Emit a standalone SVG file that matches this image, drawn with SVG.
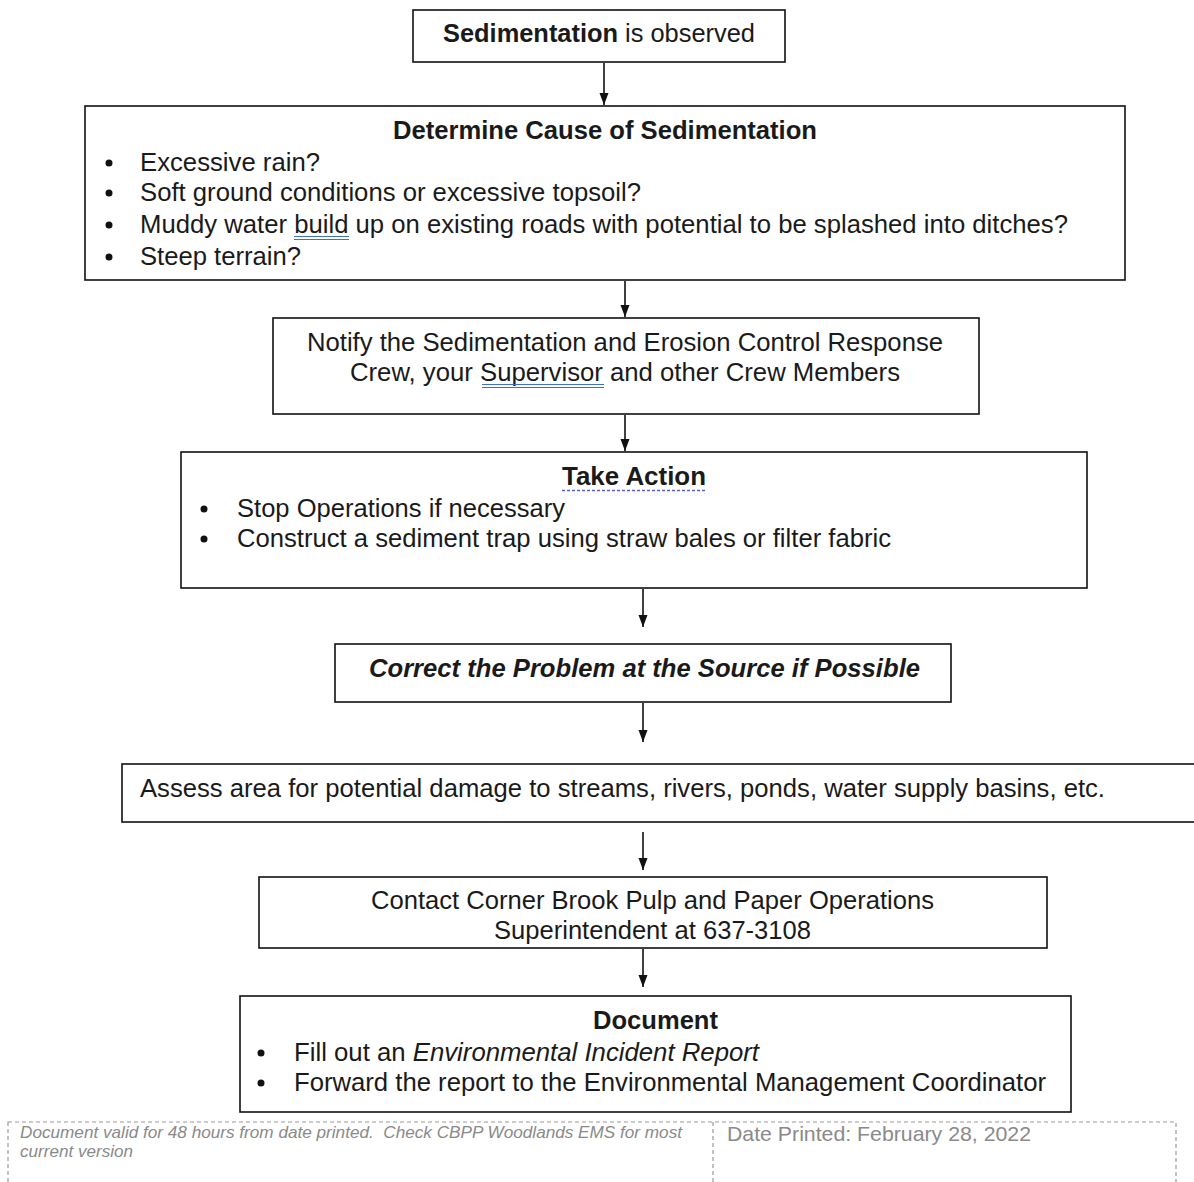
<svg xmlns="http://www.w3.org/2000/svg" width="1194" height="1182" viewBox="0 0 1194 1182">
<defs>
<style>
.box{fill:#fff;stroke:#111;stroke-width:1.6}
.t{font-family:"Liberation Sans",Arial,sans-serif;font-size:25px;fill:#1a1a1a}
.b{font-weight:bold}
.i{font-style:italic}
.c{text-anchor:middle}
.conn{stroke:#111;stroke-width:1.6;fill:none;marker-end:url(#ah)}
.foot{fill:none;stroke:#9a9a9a;stroke-width:1.2;stroke-dasharray:4 3}
.ft{font-family:"Liberation Sans",Arial,sans-serif;fill:#8a8a8a}
.dbl{stroke:#3a6fd8;stroke-width:1.2}
</style>
<marker id="ah" viewBox="0 0 12 10" refX="12" refY="5" markerWidth="12" markerHeight="10" markerUnits="userSpaceOnUse" orient="auto">
<path d="M0,0.5 L12,5 L0,9.5 Z" fill="#111"/>
</marker>
</defs>
<rect width="1194" height="1182" fill="#fff"/>

<g id="connectors">
<line class="conn" x1="604" y1="63" x2="604" y2="105"/>
<line class="conn" x1="625" y1="281" x2="625" y2="317"/>
<line class="conn" x1="625" y1="415" x2="625" y2="451"/>
<line class="conn" x1="643" y1="589" x2="643" y2="627"/>
<line class="conn" x1="643" y1="703" x2="643" y2="742"/>
<line class="conn" x1="643" y1="832" x2="643" y2="870"/>
<line class="conn" x1="643" y1="949" x2="643" y2="987"/>
</g>

<g id="n1">
<rect class="box" x="413" y="10" width="372" height="52"/>
<text class="t" x="443" y="42" textLength="312" lengthAdjust="spacingAndGlyphs"><tspan class="b">Sedimentation</tspan> is observed</text>
</g>

<g id="n2">
<rect class="box" x="85" y="106" width="1040" height="174"/>
<text class="t b c" x="605" y="139" textLength="424" lengthAdjust="spacingAndGlyphs">Determine Cause of Sedimentation</text>
<circle cx="109" cy="163" r="3.5" fill="#111"/>
<circle cx="109" cy="193" r="3.5" fill="#111"/>
<circle cx="109" cy="225" r="3.5" fill="#111"/>
<circle cx="109" cy="257" r="3.5" fill="#111"/>
<text class="t" x="140" y="171" textLength="180" lengthAdjust="spacingAndGlyphs">Excessive rain?</text>
<text class="t" x="140" y="201" textLength="501" lengthAdjust="spacingAndGlyphs">Soft ground conditions or excessive topsoil?</text>
<text class="t" x="140" y="233" textLength="928" lengthAdjust="spacingAndGlyphs">Muddy water build up on existing roads with potential to be splashed into ditches?</text>
<line class="dbl" x1="294" y1="236.5" x2="349" y2="236.5"/>
<line class="dbl" x1="294" y1="239.5" x2="349" y2="239.5"/>
<text class="t" x="140" y="265" textLength="161" lengthAdjust="spacingAndGlyphs">Steep terrain?</text>
</g>

<g id="n3">
<rect class="box" x="273" y="318" width="706" height="96"/>
<text class="t c" x="625" y="351" textLength="636" lengthAdjust="spacingAndGlyphs">Notify the Sedimentation and Erosion Control Response</text>
<text class="t c" x="625" y="381" textLength="550" lengthAdjust="spacingAndGlyphs">Crew, your Supervisor and other Crew Members</text>
<line class="dbl" x1="482" y1="384.5" x2="604" y2="384.5"/>
<line class="dbl" x1="482" y1="387.5" x2="604" y2="387.5"/>
</g>

<g id="n4">
<rect class="box" x="181" y="452" width="906" height="136"/>
<text class="t b c" x="634" y="485" textLength="144" lengthAdjust="spacingAndGlyphs">Take Action</text>
<line x1="562" y1="490.5" x2="706" y2="490.5" stroke="#5b5be0" stroke-width="1.6" stroke-dasharray="3 2"/>
<circle cx="204" cy="509" r="3.5" fill="#111"/>
<circle cx="204" cy="539" r="3.5" fill="#111"/>
<text class="t" x="237" y="517" textLength="328" lengthAdjust="spacingAndGlyphs">Stop Operations if necessary</text>
<text class="t" x="237" y="547" textLength="654" lengthAdjust="spacingAndGlyphs">Construct a sediment trap using straw bales or filter fabric</text>
</g>

<g id="n5">
<rect class="box" x="335" y="644" width="616" height="58"/>
<text class="t b i c" x="644.5" y="677" textLength="551" lengthAdjust="spacingAndGlyphs">Correct the Problem at the Source if Possible</text>
</g>

<g id="n6">
<rect class="box" x="122" y="764" width="1090" height="58"/>
<text class="t" x="140" y="797" textLength="965" lengthAdjust="spacingAndGlyphs">Assess area for potential damage to streams, rivers, ponds, water supply basins, etc.</text>
</g>

<g id="n7">
<rect class="box" x="259" y="877" width="788" height="71"/>
<text class="t c" x="652.5" y="909" textLength="563" lengthAdjust="spacingAndGlyphs">Contact Corner Brook Pulp and Paper Operations</text>
<text class="t c" x="652.5" y="939" textLength="317" lengthAdjust="spacingAndGlyphs">Superintendent at 637-3108</text>
</g>

<g id="n8">
<rect class="box" x="240" y="996" width="831" height="116"/>
<text class="t b c" x="655.5" y="1029" textLength="125" lengthAdjust="spacingAndGlyphs">Document</text>
<circle cx="261" cy="1053" r="3.5" fill="#111"/>
<circle cx="261" cy="1083" r="3.5" fill="#111"/>
<text class="t" x="294" y="1061" textLength="465" lengthAdjust="spacingAndGlyphs">Fill out an <tspan class="i">Environmental Incident Report</tspan></text>
<text class="t" x="294" y="1091" textLength="752" lengthAdjust="spacingAndGlyphs">Forward the report to the Environmental Management Coordinator</text>
</g>

<g id="footer">
<rect class="foot" x="8" y="1122" width="1168" height="80"/>
<line class="foot" x1="713" y1="1122" x2="713" y2="1182"/>
<text class="ft i" x="20" y="1138" font-size="17" textLength="662" lengthAdjust="spacingAndGlyphs" xml:space="preserve">Document valid for 48 hours from date printed.  Check CBPP Woodlands EMS for most</text>
<text class="ft i" x="20" y="1157" font-size="17" textLength="113" lengthAdjust="spacingAndGlyphs">current version</text>
<text class="ft" x="727" y="1141" font-size="21" textLength="304" lengthAdjust="spacingAndGlyphs">Date Printed: February 28, 2022</text>
</g>
</svg>
